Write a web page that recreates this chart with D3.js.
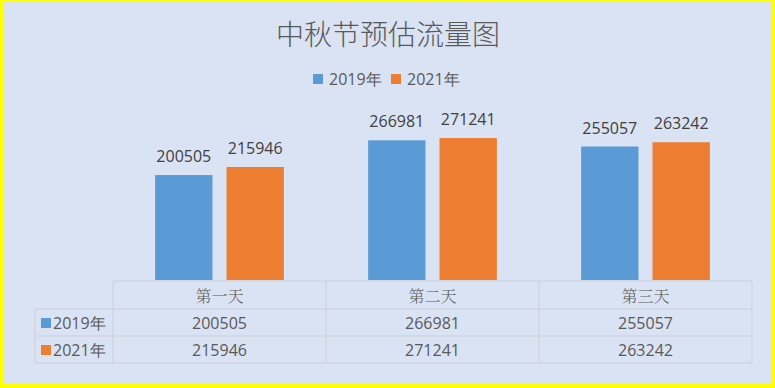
<!DOCTYPE html>
<html><head><meta charset="utf-8">
<script src="https://cdn.jsdelivr.net/npm/d3@7"></script>
<style>html,body{margin:0;padding:0;background:#ffff00;}svg{display:block;}</style>
</head><body>
<svg id="c" width="775" height="388"></svg>
<script>
const categories = ["第一天", "第二天", "第三天"];
const seriesNames = ["2019年", "2021年"];
const values2019 = [200505, 266981, 255057];
const values2021 = [215946, 271241, 263242];
const colors = ["#5b9bd5", "#ed7d31"];
const title = "中秋节预估流量图";

const series = [values2019, values2021];
const svg = d3.select("#c");
const W = 775, H = 388;
svg.append("rect").attr("x", 0).attr("y", 0).attr("width", W).attr("height", H).attr("fill", "#ffff00");
svg.append("rect").attr("x", 3).attr("y", 2).attr("width", 768).attr("height", 382).attr("fill", "#dae3f3");

const sans = "'Open Sans','Noto Sans','DejaVu Sans',sans-serif";
const cjkSans = "'Noto Sans CJK SC',sans-serif";
const textCol = "#595959";

svg.append("text").attr("x", 388).attr("y", 45).attr("text-anchor", "middle")
  .attr("font-family", cjkSans).attr("font-weight", 300).attr("font-size", 28).attr("fill", textCol).text(title);

// legend
const legX = [313, 391];
seriesNames.forEach((n, i) => {
  svg.append("rect").attr("x", legX[i]).attr("y", 74).attr("width", 10).attr("height", 10).attr("fill", colors[i]);
  svg.append("text").attr("x", legX[i] + 16).attr("y", 85).attr("font-family", sans).attr("font-size", 16)
    .attr("fill", textCol).text(n);
});

const plotLeft = 113, plotRight = 752, baseY = 280;
const x0 = d3.scaleBand().domain(categories).range([plotLeft, plotRight]);
const x1 = d3.scaleBand().domain(seriesNames).range([0, x0.bandwidth()]).paddingInner(0.197).paddingOuter(0.59);
const y = d3.scaleLinear().domain([0, 300000]).range([baseY, 123]);

categories.forEach((c, ci) => {
  seriesNames.forEach((s, si) => {
    const v = series[si][ci];
    const bx = x0(c) + x1(s);
    svg.append("rect").attr("x", bx).attr("y", y(v)).attr("width", x1.bandwidth()).attr("height", baseY - y(v))
      .attr("fill", colors[si]);
    svg.append("text").attr("x", bx + x1.bandwidth() / 2).attr("y", y(v) - 13).attr("text-anchor", "middle")
      .attr("font-family", sans).attr("font-size", 16).attr("fill", "#404040").text(v);
  });
});

// data table
const grid = "#cfd5df";
const rowY = [281, 309, 336, 363];
const legLeft = 35;
const g = svg.append("g").attr("stroke", grid).attr("stroke-width", 1.5).attr("fill", "none");
g.append("line").attr("x1", plotLeft).attr("x2", plotRight).attr("y1", rowY[0]).attr("y2", rowY[0]);
[1, 2, 3].forEach(i => g.append("line").attr("x1", legLeft).attr("x2", plotRight).attr("y1", rowY[i]).attr("y2", rowY[i]));
g.append("line").attr("x1", legLeft).attr("x2", legLeft).attr("y1", rowY[1]).attr("y2", rowY[3]);
categories.forEach(c => g.append("line").attr("x1", x0(c)).attr("x2", x0(c)).attr("y1", rowY[0]).attr("y2", rowY[3]));
g.append("line").attr("x1", plotRight).attr("x2", plotRight).attr("y1", rowY[0]).attr("y2", rowY[3]);

categories.forEach(c => {
  svg.append("text").attr("x", x0(c) + x0.bandwidth() / 2).attr("y", 302).attr("text-anchor", "middle")
    .attr("font-family", "'Noto Serif CJK SC','Noto Sans CJK SC',serif").attr("font-weight", 300).attr("font-size", 16).attr("fill", textCol).text(c);
});
seriesNames.forEach((s, si) => {
  const ty = rowY[si + 1] + 20;
  svg.append("rect").attr("x", 41).attr("y", ty - 11).attr("width", 10).attr("height", 10).attr("fill", colors[si]);
  svg.append("text").attr("x", 53).attr("y", ty).attr("font-family", sans).attr("font-size", 16).attr("fill", textCol).text(s);
  categories.forEach((c, ci) => {
    svg.append("text").attr("x", x0(c) + x0.bandwidth() / 2).attr("y", ty).attr("text-anchor", "middle")
      .attr("font-family", sans).attr("font-size", 16).attr("fill", textCol).text(series[si][ci]);
  });
});
</script>
</body></html>
